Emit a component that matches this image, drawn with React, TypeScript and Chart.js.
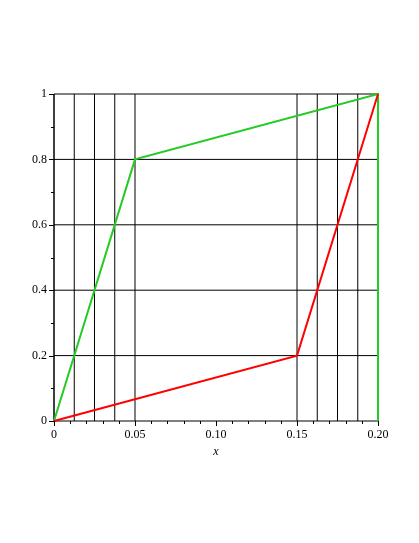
import React, { useEffect, useRef } from "react";
import { Chart, registerables } from "chart.js";

Chart.register(...registerables);

// ---- data ----
const xMajorTicks = [0, 0.05, 0.1, 0.15, 0.2];
const xTickLabels = ["0", "0.05", "0.10", "0.15", "0.20"];
const xMinorTicks = [0.01, 0.02, 0.03, 0.04, 0.06, 0.07, 0.08, 0.09, 0.11, 0.12, 0.13, 0.14, 0.16, 0.17, 0.18, 0.19];
const yMajorTicks = [0, 0.2, 0.4, 0.6, 0.8, 1];
const yTickLabels = ["0", "0.2", "0.4", "0.6", "0.8", "1"];
const yMinorTicks = [0.1, 0.3, 0.5, 0.7, 0.9];
const xAxisTitle = "x";

const verticalLinesX = [0, 0.0125, 0.025, 0.0375, 0.05, 0.15, 0.1625, 0.175, 0.1875, 0.2];
const horizontalLinesY = [0.2, 0.4, 0.6, 0.8, 1];

const greenX = [0, 0.05, 0.2, 0.2];
const greenY = [0, 0.8, 1, 0];
const redX = [0, 0.15, 0.2];
const redY = [0, 0.2, 1];

const xMin = 0, xMax = 0.2, yMin = 0, yMax = 1;

const FONT = '"Liberation Serif", "DejaVu Serif", serif';

const axesPlugin = {
  id: "mapleAxes",
  beforeDatasetsDraw(chart: any) {
    const { ctx, scales } = chart;
    const xs = scales.x, ys = scales.y;
    ctx.save();
    ctx.strokeStyle = "#000";
    ctx.lineWidth = 1;
    const x0 = xs.getPixelForValue(xMin);
    const x1 = xs.getPixelForValue(xMax);
    const y0 = ys.getPixelForValue(yMin);
    const y1 = ys.getPixelForValue(yMax);
    ctx.beginPath();
    ctx.moveTo(x0, y0);
    ctx.lineTo(x1, y0);
    ctx.moveTo(x0, y0);
    ctx.lineTo(x0, y1);
    ctx.stroke();
    ctx.restore();
  },
  afterDraw(chart: any) {
    const { ctx, scales } = chart;
    const xs = scales.x, ys = scales.y;
    const x0 = xs.getPixelForValue(xMin);
    const y0 = ys.getPixelForValue(yMin);
    ctx.save();
    ctx.strokeStyle = "#000";
    ctx.lineWidth = 1;
    ctx.beginPath();
    xMajorTicks.forEach((v) => {
      const px = Math.round(xs.getPixelForValue(v)) + 0.5;
      ctx.moveTo(px, y0);
      ctx.lineTo(px, y0 + 5);
    });
    xMinorTicks.forEach((v) => {
      const px = Math.round(xs.getPixelForValue(v)) + 0.5;
      ctx.moveTo(px, y0);
      ctx.lineTo(px, y0 + 3);
    });
    yMajorTicks.forEach((v) => {
      const py = Math.round(ys.getPixelForValue(v)) + 0.5;
      ctx.moveTo(x0, py);
      ctx.lineTo(x0 - 5, py);
    });
    yMinorTicks.forEach((v) => {
      const py = Math.round(ys.getPixelForValue(v)) + 0.5;
      ctx.moveTo(x0, py);
      ctx.lineTo(x0 - 3, py);
    });
    ctx.stroke();

    ctx.fillStyle = "#000";
    ctx.font = `12px ${FONT}`;
    ctx.textAlign = "center";
    ctx.textBaseline = "top";
    xMajorTicks.forEach((v, i) => {
      ctx.fillText(xTickLabels[i], xs.getPixelForValue(v), y0 + 8);
    });
    ctx.textAlign = "right";
    ctx.textBaseline = "middle";
    yMajorTicks.forEach((v, i) => {
      ctx.fillText(yTickLabels[i], x0 - 7, ys.getPixelForValue(v));
    });
    ctx.font = `italic 12px ${FONT}`;
    ctx.textAlign = "center";
    ctx.textBaseline = "top";
    ctx.fillText(xAxisTitle, (xs.left + xs.right) / 2, y0 + 25);
    ctx.restore();
  },
};

export default function App() {
  const ref = useRef<HTMLCanvasElement | null>(null);

  useEffect(() => {
    if (!ref.current) return;
    const lineSet = (data: { x: number; y: number }[], color: string, width: number) => ({
      data,
      borderColor: color,
      backgroundColor: color,
      borderWidth: width,
      pointRadius: 0,
      showLine: true,
      fill: false,
      tension: 0,
      clip: false as any,
    });

    const datasets: any[] = [];
    datasets.push(lineSet(redX.map((x, i) => ({ x, y: redY[i] })), "#ff0000", 2));
    datasets.push(lineSet(greenX.map((x, i) => ({ x, y: greenY[i] })), "#22cc22", 2));
    verticalLinesX.forEach((x) => {
      datasets.push(lineSet([{ x, y: yMin }, { x, y: yMax }], "#000000", 1));
    });
    horizontalLinesY.forEach((y) => {
      datasets.push(lineSet([{ x: xMin, y }, { x: xMax, y }], "#000000", 1));
    });

    const chart = new Chart(ref.current, {
      type: "scatter",
      data: { datasets },
      options: {
        responsive: false,
        animation: false,
        layout: { padding: { left: 54, right: 41, top: 94, bottom: 122 } },
        plugins: { legend: { display: false }, tooltip: { enabled: false } },
        scales: {
          x: { type: "linear", min: xMin, max: xMax, display: false },
          y: { type: "linear", min: yMin, max: yMax, display: false },
        },
      },
      plugins: [axesPlugin],
    });
    return () => chart.destroy();
  }, []);

  return (
    <div style={{ position: "absolute", left: 0, top: 0, width: 419, height: 543, background: "#fff" }}>
      <canvas ref={ref} width={419} height={543} style={{ display: "block" }} />
    </div>
  );
}
